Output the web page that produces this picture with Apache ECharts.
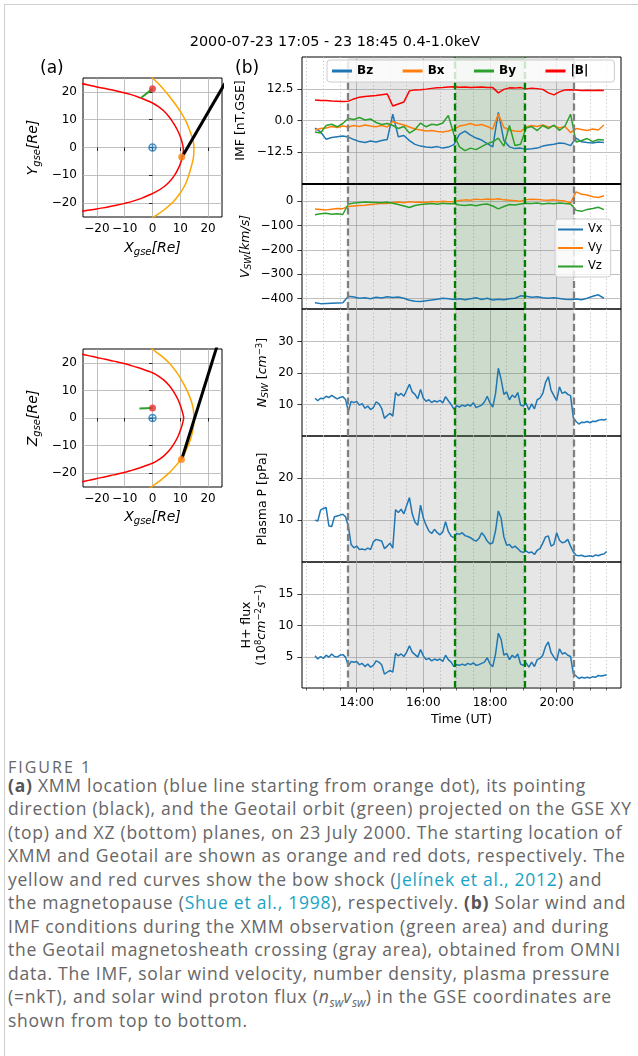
<!DOCTYPE html>
<html><head><meta charset="utf-8">
<script src="https://cdn.jsdelivr.net/npm/echarts@6/dist/echarts.min.js"></script>
<style>
html,body{margin:0;padding:0;background:#fff;}
body{width:638px;height:1056px;position:relative;overflow:hidden;}
#frame{position:absolute;left:4px;top:4px;width:640px;height:1060px;border-left:1px solid #cfcfcf;border-top:1px solid #cfcfcf;}
#chart{position:absolute;left:0;top:0;width:638px;height:740px;}
#fig{position:absolute;left:8px;top:757px;font-family:"Open Sans",sans-serif;color:#666;font-size:16px;letter-spacing:2px;line-height:20px;white-space:nowrap;}
#cap{position:absolute;left:8px;top:774px;font-family:"Open Sans",sans-serif;color:#666;font-size:17.5px;letter-spacing:0.75px;line-height:23.45px;white-space:nowrap;}
#cap b{color:#555;font-weight:700;}
#cap .c{color:#1aa3c4;}
#cap sub{font-size:0.68em;vertical-align:-0.3em;line-height:0;letter-spacing:0;}
</style></head>
<body>
<div id="frame"></div>
<div id="chart"></div>
<div id="fig">FIGURE 1</div>
<div id="cap"><b>(a)</b> XMM location (blue line starting from orange dot), its pointing<br>direction (black), and the Geotail orbit (green) projected on the GSE XY<br>(top) and XZ (bottom) planes, on 23 July 2000. The starting location of<br>XMM and Geotail are shown as orange and red dots, respectively. The<br>yellow and red curves show the bow shock (<span class="c">Jelínek et al., 2012</span>) and<br>the magnetopause (<span class="c">Shue et al., 1998</span>), respectively. <b>(b)</b> Solar wind and<br>IMF conditions during the XMM observation (green area) and during<br>the Geotail magnetosheath crossing (gray area), obtained from OMNI<br>data. The IMF, solar wind velocity, number density, plasma pressure<br>(=nkT), and solar wind proton flux (<i>n<sub>sw</sub>v<sub>sw</sub></i>) in the GSE coordinates are<br>shown from top to bottom.</div>
<script>
// ---------- DATA ----------
const TITLE = "2000-07-23 17:05 - 23 18:45 0.4-1.0keV";

// Panel (a): positions in Re
const mpXY = [[-26,23.1],[-23,22.5],[-20,21.8],[-17,21.2],[-14,20.6],[-11,19.9],[-8,19.1],[-5,18.1],[-2,16.9],[0,16.0],[2,14.8],[4,13.2],[6,11.0],[7.6,8.7],[9,6.2],[10.1,3.6],[10.8,1.2],[11.1,-0.8],[10.9,-2.8],[10.3,-5.0],[9.3,-7.5],[7.9,-10.0],[6.1,-12.3],[4,-14.2],[1.5,-15.8],[-1,-17.0],[-4,-18.3],[-7,-19.3],[-10,-20.1],[-13,-20.8],[-16,-21.4],[-19,-21.9],[-22,-22.4],[-26,-23.0]];
const bsXY = [[-1,26],[0,25],[2.6,22.5],[5.1,19.6],[7.7,16.3],[10,13],[12,9.5],[13.5,5.8],[14.5,2.8],[14.9,0],[14.8,-3],[14.1,-6.3],[13.1,-9.8],[11.7,-13.5],[9.8,-16.6],[7.5,-19.5],[4.2,-22.4],[0.5,-25],[-1,-26]];
const pointXY = [[11.1,-2.6],[26,23.0]];
const xmmXY = [[10.5,-3.4],[11.1,-2.6]];
const geoXY = [[0,21.1],[-4.2,17.8]];
const xmmStartXY = [10.5,-3.4];
const geoStartXY = [0,21.1];

const mpXZ = [[-26,23.2],[-23,22.6],[-20,21.9],[-17,21.3],[-14,20.6],[-11,19.9],[-8,19.1],[-5,18.2],[-2,17.1],[0,16.4],[2,15.3],[4,13.8],[6,11.8],[7.7,9.4],[9.2,6.6],[10.3,3.7],[11,1.2],[11.2,0],[11,-1.2],[10.3,-3.7],[9.2,-6.6],[7.7,-9.4],[6,-11.8],[4,-13.8],[2,-15.3],[0,-16.4],[-2,-17.1],[-5,-18.2],[-8,-19.1],[-11,-19.9],[-14,-20.6],[-17,-21.3],[-20,-21.9],[-23,-22.6],[-26,-23.2]];
const bsXZ = [[-1,26],[0,24.9],[3.2,22.5],[6.1,19.8],[8.5,16.8],[10.4,13.8],[12.4,10],[14,6],[14.7,3],[14.9,0],[14.7,-3.2],[14,-6.6],[12.7,-10.3],[11,-13.8],[8.7,-16.9],[6.1,-19.8],[3.2,-22.3],[0.1,-24.6],[-1.3,-25.6]];
const pointXZ = [[10.7,-14.4],[23.2,26]];
const xmmXZ = [[10.4,-15],[10.7,-14.4]];
const geoXZ = [[0,3.6],[-4.7,3.4]];
const xmmStartXZ = [10.4,-15];
const geoStartXZ = [0,3.6];
const earth = [0,0];
const posTicks = [-20,-10,0,10,20];

// Panel (b): time grids
const tFine = ["12:45","12:50","12:55",
"13:00","13:05","13:10","13:15","13:20","13:25","13:30","13:35","13:40","13:45","13:50","13:55",
"14:00","14:05","14:10","14:15","14:20","14:25","14:30","14:35","14:40","14:45","14:50","14:55",
"15:00","15:05","15:10","15:15","15:20","15:25","15:30","15:35","15:40","15:45","15:50","15:55",
"16:00","16:05","16:10","16:15","16:20","16:25","16:30","16:35","16:40","16:45","16:50","16:55",
"17:00","17:05","17:10","17:15","17:20","17:25","17:30","17:35","17:40","17:45","17:50","17:55",
"18:00","18:05","18:10","18:15","18:20","18:25","18:30","18:35","18:40","18:45","18:50","18:55",
"19:00","19:05","19:10","19:15","19:20","19:25","19:30","19:35","19:40","19:45","19:50","19:55",
"20:00","20:05","20:10","20:15","20:20","20:25","20:30","20:35","20:40","20:45","20:50","20:55",
"21:00","21:05","21:10","21:15","21:20","21:25","21:30"];
const tCoarse = ["12:45","12:55",
"13:05","13:15","13:25","13:35","13:45","13:55",
"14:05","14:15","14:25","14:35","14:45","14:55",
"15:05","15:15","15:25","15:35","15:45","15:55",
"16:05","16:15","16:25","16:35","16:45","16:55",
"17:05","17:15","17:25","17:35","17:45","17:55",
"18:05","18:15","18:25","18:35","18:45","18:55",
"19:05","19:15","19:25","19:35","19:45","19:55",
"20:05","20:15","20:25","20:35","20:45","20:55",
"21:05","21:15","21:25"];

// IMF [nT]
const bz = [-3.0,-4.5, -7.5,-6.8,-6.5,-6.2,-6.6,-7.6, -8.4,-8.8,-8.2,-8.6,-8.0,-7.6, 2.5,-6.5,-6.0,-8.0,-9.5,-10.2, -10.6,-10.8,-10.4,-11.0,-10.6,-9.6, -5.5,-4.2,-5.8,-7.0,-7.8,-9.2, -10.5,3.2,-8.0,-10.5,-11.2,-11.0, -11.5,-11.3,-11.0,-10.2,-9.8,-9.5, -9.0,-9.2,-10.0,-7.0,-8.5,-8.8, -9.0,-8.6,-8.8];
const bx = [-3.8,-3.2, -3.0,-2.4,-2.8,-2.2,-2.6,-2.0, -2.4,-1.8,-2.2,-2.5,-2.0,-2.6, -0.4,-1.2,-1.8,-2.6,-3.4,-3.8, -4.2,-4.0,-4.4,-4.6,-4.2,-3.5, -2.2,-1.8,-1.2,-2.0,-1.6,-2.4, -3.4,2.6,-2.8,-3.8,-4.2,-4.4, -2.6,-2.0,-2.4,-1.8,-2.6,-2.2, -3.0,-2.4,-4.8,-3.2,-3.6,-4.0, -3.4,-3.8,-1.8];
const by = [-4.6,-5.0, -2.0,-1.5,-2.5,-1.2,0.8,0.4, 1.2,0.2,0.6,-0.8,-1.6,-1.2, -2.0,-3.2,-2.4,-5.0,-3.6,-1.0, -2.5,-1.5,-1.8,-1.0,2.0,-5.5, -10.5,-12.0,-11.0,-11.6,-10.4,-9.2, -8.5,-7.0,-10.2,-2.0,-10.0,-9.5, -3.0,-2.4,-4.0,-2.0,-3.2,-1.8, -4.0,-2.2,2.5,-8.6,-8.0,-7.2, -8.4,-7.6,-7.8];
const bt = [8.2,8.0, 8.0,7.8,7.7,7.6,7.7,8.6, 9.3,9.6,9.8,10.0,10.3,10.6, 5.8,6.6,7.4,11.8,12.2,12.3, 12.5,12.8,13.0,13.1,13.3,13.4, 13.2,13.3,13.1,13.2,13.3,13.1, 13.1,11.0,12.4,13.0,12.9,13.1, 12.6,12.9,12.7,12.4,11.0,10.2, 11.4,12.2,12.3,12.2,12.0,12.1, 12.0,12.1,12.0];

// Solar wind velocity [km/s]
const vx = [-416,-420, -419,-418,-417,-416,-390,-393, -398,-396,-400,-394,-397,-392, -395,-393,-398,-406,-410,-411, -408,-405,-402,-398,-400,-403, -400,-404,-400,-396,-403,-398, -405,-402,-404,-400,-398,-388, -390,-394,-392,-396,-398,-396, -399,-402,-403,-401,-404,-398, -390,-384,-398];
const vy = [-32,-34, -36,-33,-30,-31,-22,-20, -18,-17,-14,-12,-9,-10, -6,-4,-7,-3,-5,-4, -6,-2,-4,-1,-3,-2, 2,5,3,8,6,9, 7,10,5,3,1,-1, 6,8,7,4,3,5, 2,0,-8,38,28,25, 18,15,22];
const vz = [-56,-52, -50,-54,-52,-55,-12,-8, -6,-4,-5,-6,-7,-5, -9,-14,-20,-26,-18,-14, -12,-10,-13,-9,-11,-10, -16,-18,-15,-19,-14,-12, -20,-32,-22,-14,-16,-12, -9,-10,-8,-12,-9,-11, -8,-10,-12,-38,-42,-34, -30,-25,-35];

// Density [cm^-3], pressure [pPa], H+ flux [1e8 cm^-2 s^-1]
const dens = [12.0,11.2,12.0,11.8,12.6,12.2,12.9,12.3,11.8,12.2,12.5,11.6,
7.8,11.0,10.6,11.0,9.8,10.3,8.8,9.5,8.4,9.0,10.8,10.3,
8.8,5.6,6.5,7.2,6.3,13.8,12.8,13.5,12.6,14.5,16.4,14.0,
13.2,11.8,14.8,12.0,11.0,11.5,10.6,11.2,10.8,11.3,10.5,12.5,
11.2,10.0,8.5,9.6,9.2,9.8,9.4,10.0,9.5,10.6,9.0,9.4,
9.8,10.8,12.6,10.5,9.2,13.5,21.5,18.0,13.2,14.0,11.5,13.0,
12.2,13.8,9.8,9.5,10.4,8.3,10.2,8.6,11.5,12.0,13.5,17.0,
18.8,14.5,12.8,11.2,15.6,13.5,14.0,13.2,12.8,5.8,4.6,3.8,
4.4,4.3,4.6,4.2,4.7,4.6,5.0,5.2,5.1,5.3];
const pres = [10.0,9.8,12.4,12.8,13.0,8.6,8.5,10.8,11.0,11.2,11.4,10.8,
8.5,4.2,3.4,3.8,3.0,3.1,2.9,3.3,3.0,4.8,5.4,5.2,
5.0,3.2,3.8,4.5,3.3,12.5,11.8,12.6,11.5,13.5,15.4,11.5,
9.5,8.8,13.6,10.5,8.8,7.4,6.8,7.8,7.0,6.5,7.2,9.6,
7.3,6.2,5.8,6.8,6.6,7.0,6.3,6.1,5.8,5.3,5.0,5.6,
7.0,6.2,5.0,4.3,4.6,7.5,12.2,10.5,6.0,4.0,4.2,3.4,
3.8,3.2,2.5,2.3,2.6,2.2,2.4,1.8,2.8,3.2,4.5,6.0,
6.2,3.8,4.2,7.0,5.2,4.6,4.8,5.4,3.8,2.4,1.6,1.5,
1.6,1.3,1.4,1.5,1.3,1.7,1.5,1.8,1.9,2.5];
const flux = [5.2,4.7,5.1,4.8,5.3,5.0,5.5,5.1,5.0,5.3,5.4,5.0,
3.6,4.3,4.2,4.3,3.8,4.0,3.5,3.9,3.4,3.7,4.4,4.2,
3.8,2.3,2.6,2.9,2.6,5.6,5.2,5.5,5.1,5.8,6.8,5.8,
5.4,5.0,6.2,5.2,4.6,4.8,4.4,4.7,4.5,4.7,4.3,5.3,
4.6,4.2,3.5,3.8,3.7,3.9,3.7,4.0,3.8,4.1,3.7,3.8,
4.0,4.2,4.9,3.9,3.5,5.5,8.8,7.8,5.3,5.6,4.6,5.3,
4.9,5.5,3.9,3.7,4.1,3.4,4.2,3.5,4.6,4.8,5.3,6.7,
7.4,5.7,5.0,4.4,6.3,5.5,5.7,5.3,5.1,2.4,2.0,1.6,
1.8,1.7,1.8,1.7,1.9,1.8,2.1,2.0,2.1,2.2];

// Intervals (hours UT)
const graySpan = [13.73, 20.52];   // Geotail magnetosheath crossing
const greenSpan = [16.95, 19.03];  // XMM observation
// Time axis ticks (hours)
const majorX = [14,16,18,20];
const minorX = [12.5,13,13.5,14.5,15,15.5,16.5,17,17.5,18.5,19,19.5,20.5,21,21.5];
const imfTicks = [-12.5,0,12.5];
const vTicks = [-400,-300,-200,-100,0];
const nTicks = [10,20,30];
const pTicks = [10,20];
const fTicks = [5,10,15];

// ---------- CHART ----------
const FONT = 'DejaVu Sans';
const C0='#1f77b4', C1='#ff7f0e', C2='#2ca02c', CR='#ff0000';
const hrs = s => { const p = s.split(':'); return +p[0] + (+p[1])/60; };
const mk = (ts, vs) => ts.map((t,i) => [hrs(t), vs[i]]);
const minus = v => String(v).replace('-', '\u2212');

const chart = echarts.init(document.getElementById('chart'), null, {renderer:'canvas'});

const gridBase = {show:true, borderColor:'#000', borderWidth:1, backgroundColor:'transparent', containLabel:false};
const grids = [
  Object.assign({left:83, top:78, width:139, height:139}, gridBase),
  Object.assign({left:83, top:349, width:139, height:138}, gridBase),
  Object.assign({left:302, top:57, width:319, height:127}, gridBase),
  Object.assign({left:302, top:184, width:319, height:125}, gridBase),
  Object.assign({left:302, top:309, width:319, height:127}, gridBase),
  Object.assign({left:302, top:436, width:319, height:126}, gridBase),
  Object.assign({left:302, top:562, width:319, height:126}, gridBase)
];

const richA = {
  i:{fontFamily:FONT, fontStyle:'italic', fontSize:14, color:'#000', lineHeight:17},
  s:{fontFamily:FONT, fontStyle:'italic', fontSize:10, color:'#000', lineHeight:10, verticalAlign:'bottom'}
};
const richB = {
  t:{fontFamily:FONT, fontSize:12.5, color:'#000', lineHeight:15},
  i:{fontFamily:FONT, fontStyle:'italic', fontSize:12.5, color:'#000', lineHeight:15},
  s:{fontFamily:FONT, fontStyle:'italic', fontSize:9, color:'#000', lineHeight:9, verticalAlign:'bottom'},
  p:{fontFamily:FONT, fontSize:8.5, color:'#000', lineHeight:8, verticalAlign:'top'}
};

const tickLbl = {fontFamily:FONT, fontSize:12, color:'#000'};
function posAxis(gi, isX, name, gap){
  return {
    gridIndex:gi, type:'value', min:-25, max:25,
    axisLine:{show:false},
    axisTick:{show:true, customValues:posTicks, length:3.5, lineStyle:{color:'#000', width:0.8}},
    axisLabel:Object.assign({customValues:posTicks, margin:6, formatter:minus}, tickLbl),
    splitLine:{show:true, lineStyle:{color:'#b0b0b0', width:0.8}},
    name:name, nameLocation:'middle', nameGap:gap, nameRotate:isX?0:90,
    nameTextStyle:{rich:richA}
  };
}

const xAxes = [
  posAxis(0, true, '{i|X}{s|gse}{i|[Re]}', 23),
  posAxis(1, true, '{i|X}{s|gse}{i|[Re]}', 22)
];
const yAxes = [
  posAxis(0, false, '{i|Y}{s|gse}{i|[Re]}', 41),
  posAxis(1, false, '{i|Z}{s|gse}{i|[Re]}', 41)
];
const XMIN = 12.36, XMAX = 21.93;
for (let k=0;k<5;k++){
  const last = (k===4);
  xAxes.push({
    gridIndex:2+k, type:'value', min:XMIN, max:XMAX,
    axisLine:{show:false},
    axisTick:{show:last, customValues:majorX, length:4.5, lineStyle:{color:'#000', width:0.8}},
    axisLabel:Object.assign({show:last, customValues:majorX, margin:9, formatter:v=>v+':00'}, tickLbl),
    splitLine:{show:true, lineStyle:{color:'#b0b0b0', width:0.8}},
    name:last?'Time (UT)':'', nameLocation:'middle', nameGap:25,
    nameTextStyle:{fontFamily:FONT, fontSize:12.5, color:'#000'}
  });
  xAxes.push({
    gridIndex:2+k, type:'value', min:XMIN, max:XMAX, position:'bottom',
    axisLine:{show:false},
    axisTick:{show:last, customValues:minorX, length:2.5, lineStyle:{color:'#000', width:0.6}},
    axisLabel:{show:false},
    splitLine:{show:true, lineStyle:{color:'#c4c4c4', width:0.8, type:[1.5,2]}}
  });
}
function bY(gi, min, max, ticks, name, gap, fmt){
  return {
    gridIndex:gi, type:'value', min:min, max:max,
    axisLine:{show:false},
    axisTick:{show:true, customValues:ticks, length:4.5, lineStyle:{color:'#000', width:0.8}},
    axisLabel:Object.assign({customValues:ticks, margin:8.5, formatter:fmt||minus}, tickLbl),
    splitLine:{show:true, lineStyle:{color:'#b0b0b0', width:0.8}},
    name:name, nameLocation:'middle', nameGap:gap, nameRotate:90,
    nameTextStyle:{rich:richB}
  };
}
const V_MIN = -442, V_MAX = 70;
yAxes.push(bY(2, -25.3, 25.3, imfTicks, '{t|IMF [nT,GSE]}', 54, v=>minus(v.toFixed(1))));
yAxes.push(bY(3, V_MIN, V_MAX, vTicks, '{i|V}{s|SW}{i|[km/s]}', 49));
yAxes.push(bY(4, 0, 40.3, nTicks, '{i|N}{s|SW}{t| [}{i|cm}{p|\u22123}{t|]}', 32));
yAxes.push(bY(5, 0, 30.1, pTicks, '{t|Plasma P [pPa]}', 32));
yAxes.push(bY(6, 0.1, 20.1, fTicks, '{t|H+ flux}\n{t|(10}{p|8}{i|cm}{p|\u22122}{i|s}{p|\u22121}{t|)}', 33));

const series = [];
function line(xi, yi, data, color, width, name, extra){
  series.push(Object.assign({
    type:'line', name:name, xAxisIndex:xi, yAxisIndex:yi, data:data,
    showSymbol:false, symbol:'none', clip:true,
    lineStyle:{color:color, width:width}, itemStyle:{color:color},
    emphasis:{disabled:true}, z:3
  }, extra||{}));
}
function dot(xi, yi, p, color, size){
  series.push({type:'scatter', xAxisIndex:xi, yAxisIndex:yi, data:[p], symbolSize:size,
    itemStyle:{color:color}, z:6, emphasis:{disabled:true}});
}
function earthMark(xi, yi){
  series.push({type:'scatter', xAxisIndex:xi, yAxisIndex:yi, data:[earth], symbolSize:7,
    symbol:'path://M0,-5A5,5 0 1,1 0,5A5,5 0 1,1 0,-5ZM-5,0L5,0M0,-5L0,5',
    itemStyle:{color:'rgba(0,0,0,0)', borderColor:C0, borderWidth:1.5}, z:6, emphasis:{disabled:true}});
}
// Panel (a) top: XY
line(0,0, mpXY, CR, 1.5, null, {smooth:0.4});
line(0,0, bsXY, '#ffa500', 1.5, null, {smooth:0.4});
line(0,0, pointXY, '#000', 3);
line(0,0, xmmXY, C0, 1.5);
line(0,0, geoXY, C2, 2);
dot(0,0, geoStartXY, '#e8312f', 7);
dot(0,0, xmmStartXY, C1, 7);
earthMark(0,0);
// Panel (a) bottom: XZ
line(1,1, mpXZ, CR, 1.5, null, {smooth:0.4});
line(1,1, bsXZ, '#ffa500', 1.5, null, {smooth:0.4});
line(1,1, pointXZ, '#000', 3);
line(1,1, xmmXZ, C0, 1.5);
line(1,1, geoXZ, C2, 2);
dot(1,1, geoStartXZ, '#e8312f', 7);
dot(1,1, xmmStartXZ, C1, 7);
earthMark(1,1);

// Panel (b) shading and boundaries
const dashG = {color:'#808080', width:2.3, type:[7,3.5]};
const dashV = {color:'#008000', width:2.3, type:[7,3.5]};
function marks(extraLines){
  return {
    markArea:{silent:true, z:1, data:[
      [{xAxis:graySpan[0], itemStyle:{color:'rgba(128,128,128,0.2)'}},{xAxis:graySpan[1]}],
      [{xAxis:greenSpan[0], itemStyle:{color:'rgba(0,128,0,0.11)'}},{xAxis:greenSpan[1]}]
    ]},
    markLine:{silent:true, symbol:['none','none'], label:{show:false}, z:4, data:[
      {xAxis:graySpan[0], lineStyle:dashG},{xAxis:graySpan[1], lineStyle:dashG},
      {xAxis:greenSpan[0], lineStyle:dashV},{xAxis:greenSpan[1], lineStyle:dashV}
    ].concat(extraLines||[])}
  };
}
const heavy = {color:'#000', width:2, type:'solid'};
line(2,2, mk(tCoarse,bz), C0, 1.5, 'Bz', marks());
line(2,2, mk(tCoarse,bx), C1, 1.5, 'Bx');
line(2,2, mk(tCoarse,by), C2, 1.5, 'By');
line(2,2, mk(tCoarse,bt), CR, 1.5, '|B|');
line(4,3, mk(tCoarse,vx), C0, 1.5, 'Vx', marks([
  {yAxis:V_MAX, lineStyle:heavy},
  [{coord:[greenSpan[0], V_MIN], lineStyle:heavy},{coord:[greenSpan[1], V_MIN]}]
]));
line(4,3, mk(tCoarse,vy), C1, 1.5, 'Vy');
line(4,3, mk(tCoarse,vz), C2, 1.5, 'Vz');
line(6,4, mk(tFine,dens), C0, 1.5, 'N', marks());
line(8,5, mk(tFine,pres), C0, 1.5, 'P', marks());
line(10,6, mk(tFine,flux), C0, 1.5, 'F', marks());

const option = {
  animation:false,
  backgroundColor:'transparent',
  textStyle:{fontFamily:FONT},
  title:[
    {text:TITLE, left:335, top:35, textAlign:'center', padding:0, textStyle:{fontFamily:FONT, fontSize:14.4, fontWeight:'normal', color:'#000'}},
    {text:'(a)', left:40, top:60, padding:0, textStyle:{fontFamily:FONT, fontSize:17, fontWeight:'normal', color:'#000'}},
    {text:'(b)', left:235, top:60, padding:0, textStyle:{fontFamily:FONT, fontSize:17, fontWeight:'normal', color:'#000'}}
  ],
  legend:[
    {data:['Bz','Bx','By','|B|'], left:327, top:60, orient:'horizontal', icon:'rect', itemWidth:20, itemHeight:3,
     itemGap:29.5, padding:[5,26,5,5], borderColor:'#cccccc', borderWidth:1, borderRadius:3, z:20,
     backgroundColor:'rgba(255,255,255,0.8)', selectedMode:false,
     textStyle:{fontFamily:FONT, fontSize:12, fontWeight:'bold', color:'#000'}},
    {data:['Vx','Vy','Vz'], left:555, top:219, orient:'vertical', icon:'rect', itemWidth:25, itemHeight:2,
     itemGap:5.5, padding:[4,8,4,3], borderColor:'#cccccc', borderWidth:1, borderRadius:3, z:20,
     backgroundColor:'rgba(255,255,255,0.8)', selectedMode:false,
     textStyle:{fontFamily:FONT, fontSize:11.5, color:'#000', lineHeight:13}}
  ],
  grid:grids, xAxis:xAxes, yAxis:yAxes, series:series
};
chart.setOption(option);
</script>
</body></html>
